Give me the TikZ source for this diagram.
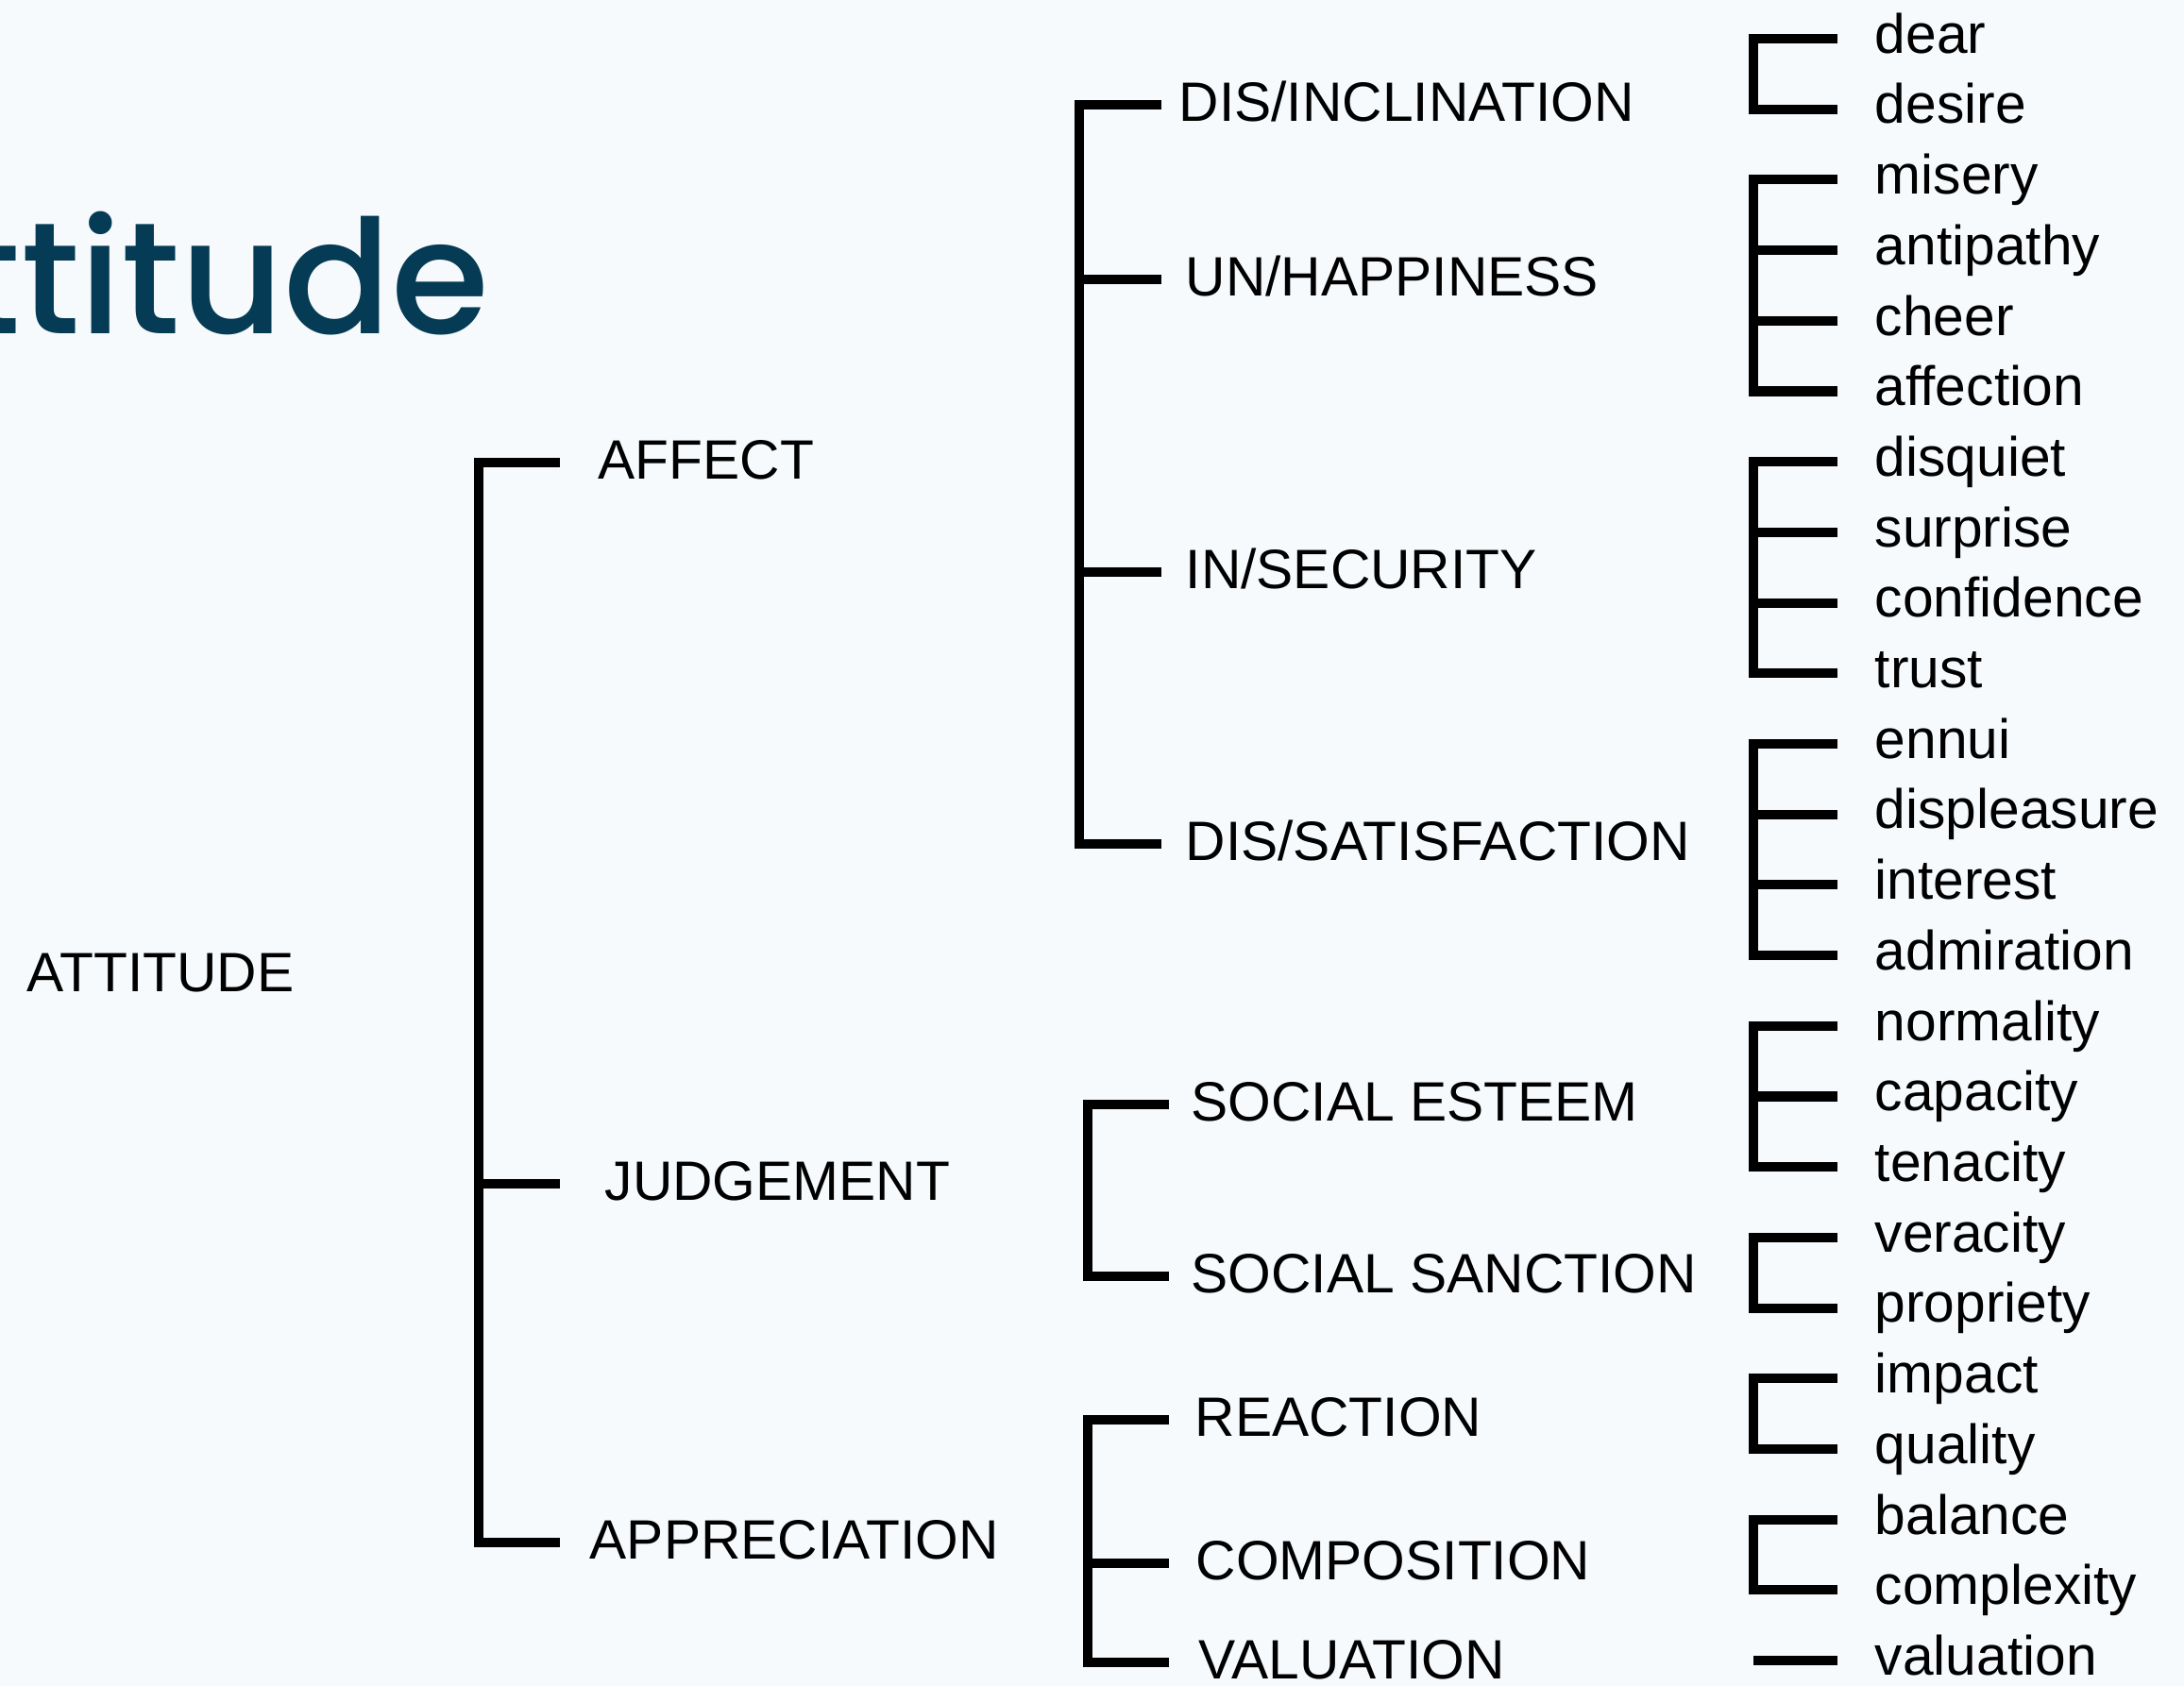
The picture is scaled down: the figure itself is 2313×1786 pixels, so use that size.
\documentclass[tikz,border=0pt]{standalone}
\usepackage{fontspec}
\setmainfont{Liberation Sans}
\newfontfamily\titlefont{Poppins Medium}
\definecolor{pagebg}{RGB}{246,250,253}
\definecolor{titleblue}{RGB}{6,59,85}
\begin{document}
\begin{tikzpicture}[x=0.01cm,y=-0.01cm,
        lbl/.style={inner sep=0pt,anchor=west,text height=12pt,text depth=3.3pt,font=\fontsize{16.7pt}{20pt}\selectfont},
        caplbl/.style={lbl,text depth=2pt},
        brk/.style={line width=2.85pt}]
        \fill[pagebg] (0,0) rectangle (2313,1786);
        \useasboundingbox (0,0) rectangle (2313,1786);
        \node[anchor=base east,inner sep=0pt,text=titleblue,font=\titlefont\fontsize{47.8pt}{50pt}\selectfont] (title) at (519,354) {Attitude};
        \node[caplbl] (att) at (28,1033) {ATTITUDE};
        \foreach \x/\y/\n/\l in {633/490/aff/AFFECT,640/1254/judg/JUDGEMENT,624/1634/appr/APPRECIATION}{
            \node[caplbl] (\n) at (\x,\y) {\l};
        }
        \foreach \x/\y/\n/\l in {1248/111/incl/{DIS/INCLINATION},1255/296/happ/{UN/HAPPINESS},1255/606/secu/{IN/SECURITY},1255/894/sati/{DIS/SATISFACTION},
            1261/1170/este/{SOCIAL ESTEEM},1261/1352/sanc/{SOCIAL SANCTION},1265/1504/reac/REACTION,1266/1656/comp/COMPOSITION,1269/1761/valu/VALUATION}{
            \node[caplbl] (\n) at (\x,\y) {\l};
        }
        \foreach \l [count=\i from 0] in {dear,desire,misery,antipathy,cheer,affection,disquiet,surprise,confidence,trust,ennui,displeasure,interest,admiration,
            normality,capacity,tenacity,veracity,propriety,impact,quality,balance,complexity,valuation}{
            \node[lbl] (\l) at (1985,{41+74.7*\i}) {\l};
        }
        % spines and stub ends
        \coordinate (s1) at (507,0);
        \coordinate (e1) at (593,0);
        \coordinate (s2) at (1143,0);
        \coordinate (e2) at (1230,0);
        \coordinate (s2b) at (1152,0);
        \coordinate (e2b) at (1238,0);
        \coordinate (s3) at (1857,0);
        \coordinate (e3) at (1946,0);
        % brackets
        \draw[brk] (e1 |- aff.west) -| (s1 |- appr.west) -- (e1 |- appr.west);
        \draw[brk] (s1 |- judg.west) -- (e1 |- judg.west);
        \draw[brk] (e2 |- incl.west) -| (s2 |- sati.west) -- (e2 |- sati.west);
        \foreach \m in {happ,secu}{
            \draw[brk] (s2 |- \m.west) -- (e2 |- \m.west);
        }
        \foreach \a/\b in {este/sanc,reac/valu}{
            \draw[brk] (e2b |- \a.west) -| (s2b |- \b.west) -- (e2b |- \b.west);
        }
        \draw[brk] (s2b |- comp.west) -- (e2b |- comp.west);
        \foreach \a/\b in {dear/desire,misery/affection,disquiet/trust,ennui/admiration,normality/tenacity,veracity/propriety,impact/quality,balance/complexity}{
            \draw[brk] (e3 |- \a.west) -| (s3 |- \b.west) -- (e3 |- \b.west);
        }
        \foreach \m in {antipathy,cheer,surprise,confidence,displeasure,interest,capacity}{
            \draw[brk] (s3 |- \m.west) -- (e3 |- \m.west);
        }
        \draw[brk] (s3 |- valuation.west) -- (e3 |- valuation.west);
\end{tikzpicture}
\end{document}
